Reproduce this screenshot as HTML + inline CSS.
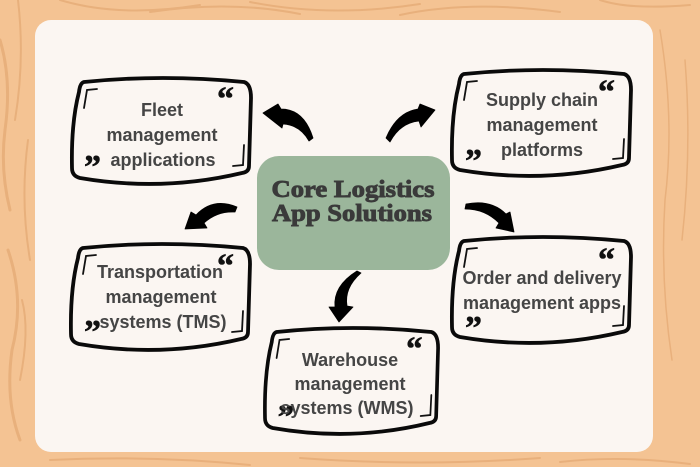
<!DOCTYPE html>
<html>
<head>
<meta charset="utf-8">
<style>
html,body{margin:0;padding:0;background:#f4c393;}
svg{display:block;}
.t{font-family:"Liberation Sans",sans-serif;font-weight:700;font-size:18px;fill:#454545;text-anchor:middle;}
.c{font-family:"Liberation Serif",serif;font-weight:700;font-size:24px;fill:#3a3a3a;stroke:#3a3a3a;stroke-width:0.9;text-anchor:middle;}
.q{font-family:"Liberation Serif",serif;font-weight:700;font-size:34px;fill:#111;stroke:#111;stroke-width:0.6;}
.fr{fill:none;stroke:#0a0a0a;stroke-width:3.8;stroke-linejoin:round;stroke-linecap:round;}
.br{fill:none;stroke:#111;stroke-width:1.8;stroke-linecap:round;}
</style>
</head>
<body>
<svg width="700" height="467" viewBox="0 0 700 467" xmlns="http://www.w3.org/2000/svg">
  <rect width="700" height="467" fill="#f4c393"/>
  <!-- wood grain -->
  <g fill="none" stroke="#e6ad78" stroke-linecap="round" opacity="0.85">
    <path d="M0,40 Q12,80 5,130 Q0,170 10,210" stroke-width="3"/>
    <path d="M18,0 Q25,60 15,120" stroke-width="2"/>
    <path d="M8,250 Q25,300 12,350 Q5,400 20,440" stroke-width="3"/>
    <path d="M22,300 Q30,330 20,380" stroke-width="2"/>
    <path d="M28,140 Q20,200 30,260" stroke-width="2"/>
    <path d="M60,0 Q120,18 200,5" stroke-width="2"/>
    <path d="M150,12 Q230,0 300,14" stroke-width="2"/>
    <path d="M250,2 Q330,18 420,4" stroke-width="2"/>
    <path d="M400,15 Q470,0 560,12" stroke-width="2"/>
    <path d="M600,0 Q630,10 690,5" stroke-width="2"/>
    <path d="M660,30 Q675,120 665,200 Q660,280 672,360" stroke-width="1.5"/>
    <path d="M685,60 Q692,150 682,240" stroke-width="1.5"/>
    <path d="M50,460 Q150,455 250,465" stroke-width="2"/>
    <path d="M300,458 Q420,467 540,458" stroke-width="2"/>
    <path d="M560,462 Q620,455 690,464" stroke-width="2"/>
  </g>
  <!-- card -->
  <rect x="35" y="20" width="618" height="432" rx="16" ry="16" fill="#fbf6f2"/>

  <!-- center box -->
  <rect x="257" y="156" width="193" height="114" rx="22" ry="22" fill="#9bb69b"/>
  <text class="c" x="353" y="197" textLength="163" lengthAdjust="spacingAndGlyphs">Core Logistics</text>
  <text class="c" x="352" y="221" textLength="160" lengthAdjust="spacingAndGlyphs">App Solutions</text>

  <!-- arrows -->
  <g fill="#000" stroke="#000" stroke-width="0.8" stroke-linejoin="round">
    <path d="M263,113 L278,104 L281,109 Q304,109 313,138 L309,141 Q300,125 283,124 L282,128 Z"/>
    <path d="M185,229 L191,212 L196,215 Q213,197 237,207 L235,212 Q217,211 204,223 L207,228 Z"/>
    <path d="M435,110 L420,104 L418,109 Q397,112 386,138 L390,142 Q400,123 419,121 L421,127 Z"/>
    <path d="M514,232 L496,228 L499,223 Q485,209 465,209 L466,204 Q491,199 506,214 L510,212 Z"/>
    <path d="M339,322 L329,307 L335,307 Q333,286 357,271 L361,273 Q344,288 347,306 L353,307 Z"/>
  </g>

  <!-- Fleet box -->
  <g transform="translate(72,78)">
    <path class="fr" d="M12,4 Q90,-4 172,4 Q179,6 179,20 L177,88 Q177,94 170,95 Q90,114 8,100 Q0,98 0,90 Q-1,45 7,14 Q8,5 12,4 Z"/>
    <path class="br" d="M25,11 L15,12 L12,30"/>
    <path class="br" d="M172,67 L171,87 L161,88"/>
    <text class="q" x="145" y="32">“</text>
    <text class="q" x="12" y="100">”</text>
  </g>
  <text class="t" x="162" y="116">Fleet</text>
  <text class="t" x="162" y="141">management</text>
  <text class="t" x="163" y="166">applications</text>

  <!-- Supply box -->
  <g transform="translate(452,70)">
    <path class="fr" d="M12,4 Q90,-4 172,4 Q179,6 179,20 L177,88 Q177,94 170,95 Q90,114 8,100 Q0,98 0,90 Q-1,45 7,14 Q8,5 12,4 Z"/>
    <path class="br" d="M25,11 L15,12 L12,30"/>
    <path class="br" d="M172,69 L171,88 L161,89"/>
    <text class="q" x="146" y="33">“</text>
    <text class="q" x="13" y="102">”</text>
  </g>
  <text class="t" x="542" y="106">Supply chain</text>
  <text class="t" x="542" y="131">management</text>
  <text class="t" x="542" y="156">platforms</text>

  <!-- TMS box -->
  <g transform="translate(71,244)">
    <path class="fr" d="M12,4 Q90,-4 172,4 Q179,6 179,20 L177,88 Q177,94 170,95 Q90,114 8,100 Q0,98 0,90 Q-1,45 7,14 Q8,5 12,4 Z"/>
    <path class="br" d="M25,11 L15,12 L12,30"/>
    <path class="br" d="M172,67 L171,87 L161,88"/>
    <text class="q" x="146" y="33">“</text>
    <text class="q" x="13" y="99">”</text>
  </g>
  <text class="t" x="160" y="278">Transportation</text>
  <text class="t" x="161" y="303">management</text>
  <text class="t" x="163" y="328">systems (TMS)</text>

  <!-- WMS box -->
  <g transform="translate(265,328) scale(0.967,1)">
    <path class="fr" d="M12,4 Q90,-4 172,4 Q179,6 179,20 L177,88 Q177,94 170,95 Q90,114 8,100 Q0,98 0,90 Q-1,45 7,14 Q8,5 12,4 Z"/>
    <path class="br" d="M25,11 L15,12 L12,30"/>
    <path class="br" d="M172,67 L171,87 L161,88"/>
    <text class="q" x="146" y="32">“</text>
    <text class="q" x="13" y="100">”</text>
  </g>
  <text class="t" x="350" y="366">Warehouse</text>
  <text class="t" x="350" y="390">management</text>
  <text class="t" x="347" y="414">systems (WMS)</text>

  <!-- Order box -->
  <g transform="translate(452,237)">
    <path class="fr" d="M12,4 Q90,-4 172,4 Q179,6 179,20 L177,88 Q177,94 170,95 Q90,114 8,100 Q0,98 0,90 Q-1,45 7,14 Q8,5 12,4 Z"/>
    <path class="br" d="M25,11 L15,12 L12,30"/>
    <path class="br" d="M172,69 L171,88 L161,89"/>
    <text class="q" x="146" y="34">“</text>
    <text class="q" x="13" y="102">”</text>
  </g>
  <text class="t" x="542" y="284">Order and delivery</text>
  <text class="t" x="542" y="309">management apps</text>
</svg>
</body>
</html>
